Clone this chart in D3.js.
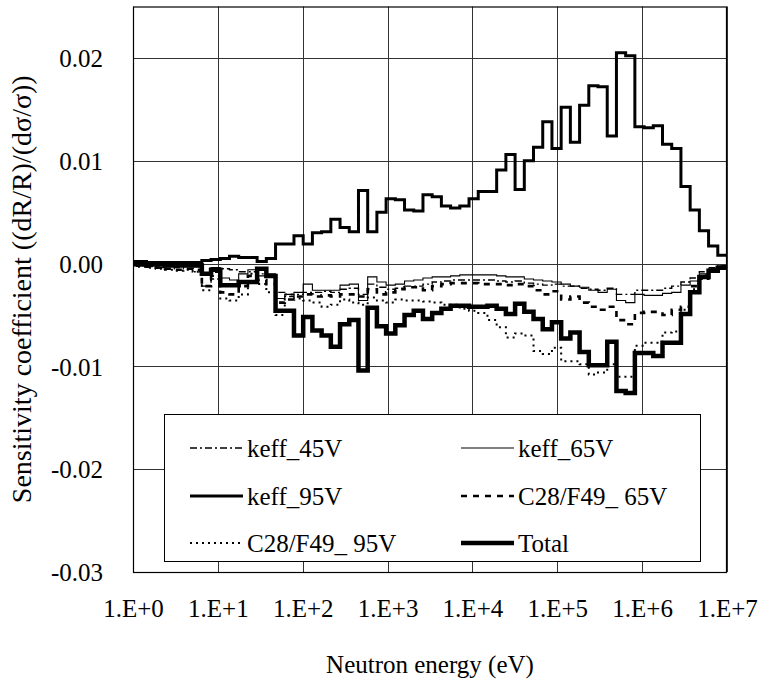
<!DOCTYPE html>
<html>
<head>
<meta charset="utf-8">
<script src="https://cdn.jsdelivr.net/npm/d3@7"></script>
<style>
  html, body { margin: 0; padding: 0; background: #fff; }
  svg { display: block; }
</style>
</head>
<body>
<svg id="chart" width="761" height="684"></svg>
<script>
// Energy group boundaries (eV), from high to low energy
const groupEdgesEV = [
  1.0e7, 7.788e6, 6.0653e6, 4.7237e6, 3.6788e6, 2.8650e6, 2.2313e6, 1.7377e6, 1.3534e6, 1.0540e6,
  8.2085e5, 6.3928e5, 4.9787e5, 3.8774e5, 3.0197e5, 2.3518e5, 1.8316e5, 1.4264e5, 1.1109e5, 8.6517e4,
  6.7379e4, 5.2475e4, 4.0868e4, 3.1828e4, 2.4788e4, 1.9305e4, 1.5034e4, 1.1709e4, 9.1188e3, 7.1017e3,
  5.5308e3, 4.3074e3, 3.3546e3, 2.6126e3, 2.0347e3, 1.5846e3, 1.2341e3, 961.12, 748.52, 582.95,
  454.00, 353.57, 275.36, 214.45, 167.02, 130.07, 101.30, 78.893, 61.442, 47.851,
  37.267, 29.023, 22.603, 17.603, 13.710, 10.677, 8.3153, 6.4760, 5.0435, 3.9279,
  3.0590, 2.3824, 1.8554, 1.4450, 1.1254, 0.87642
];

const seriesNames = ["keff_45V", "keff_65V", "keff_95V", "C28/F49_ 65V", "C28/F49_ 95V", "Total"];

// Sensitivity per group (same order as groupEdgesEV groups: high -> low energy)
const keff45V = [
  -0.0002, -0.0004, -0.0008, -0.0014, -0.0018, -0.0022, -0.0024, -0.0026, -0.0026, -0.0026,
  -0.0030, -0.0030, -0.0024, -0.0026, -0.0025, -0.0024, -0.0022, -0.0022, -0.0020, -0.0021,
  -0.0020, -0.0019, -0.0017, -0.0018, -0.0017, -0.0016, -0.0016, -0.0016, -0.0016, -0.0016,
  -0.0017, -0.0018, -0.0020, -0.0022, -0.0022, -0.0024, -0.0025, -0.0023, -0.0020, -0.0030,
  -0.0024, -0.0025, -0.0028, -0.0027, -0.0028, -0.0028, -0.0030, -0.0032, -0.0028, -0.0012,
  -0.0010, -0.0008, -0.0008, -0.0006, -0.0005, -0.0015, -0.0022, -0.0008, -0.0005, -0.0004,
  -0.0005, -0.0004, -0.0003, -0.0002, -0.0001
];
const keff65V = [
  -0.0003, -0.0005, -0.0010, -0.0017, -0.0021, -0.0028, -0.0029, -0.0031, -0.0031, -0.0030,
  -0.0038, -0.0036, -0.0025, -0.0028, -0.0026, -0.0023, -0.0022, -0.0020, -0.0018, -0.0017,
  -0.0016, -0.0015, -0.0013, -0.0013, -0.0012, -0.0011, -0.0011, -0.0011, -0.0011, -0.0012,
  -0.0013, -0.0013, -0.0014, -0.0016, -0.0017, -0.0020, -0.0021, -0.0018, -0.0013, -0.0036,
  -0.0020, -0.0021, -0.0026, -0.0026, -0.0026, -0.0020, -0.0028, -0.0030, -0.0034, -0.0010,
  -0.0012, -0.0006, -0.0010, -0.0016, -0.0014, -0.0004, -0.0010, -0.0003, -0.0003, -0.0002,
  -0.0002, -0.0002, -0.0001, -0.0001, 0.0000
];
const keff95V = [
  0.0008, 0.0017, 0.0032, 0.0052, 0.0075, 0.0112, 0.0116, 0.0134, 0.0132, 0.0133,
  0.0202, 0.0205, 0.0124, 0.0172, 0.0173, 0.0154, 0.0118, 0.0152, 0.0112, 0.0138,
  0.0113, 0.0100, 0.0072, 0.0106, 0.0091, 0.0070, 0.0070, 0.0063, 0.0056, 0.0054,
  0.0056, 0.0065, 0.0067, 0.0051, 0.0052, 0.0062, 0.0063, 0.0050, 0.0031, 0.0071,
  0.0031, 0.0035, 0.0043, 0.0031, 0.0030, 0.0019, 0.0027, 0.0019, 0.0019, 0.0005,
  0.0002, 0.0006, 0.0006, 0.0007, 0.0005, 0.0004, 0.0003, 0.0001, 0.0001, 0.0001,
  0.0001, 0.0001, 0.0001, 0.0002, 0.0002
];
const c28f49_65V = [
  -0.0003, -0.0006, -0.0012, -0.0022, -0.0042, -0.0045, -0.0050, -0.0047, -0.0047, -0.0048,
  -0.0059, -0.0055, -0.0042, -0.0045, -0.0042, -0.0038, -0.0032, -0.0035, -0.0027, -0.0030,
  -0.0026, -0.0022, -0.0020, -0.0021, -0.0020, -0.0020, -0.0020, -0.0019, -0.0019, -0.0019,
  -0.0020, -0.0022, -0.0026, -0.0023, -0.0023, -0.0025, -0.0028, -0.0030, -0.0025, -0.0032,
  -0.0030, -0.0030, -0.0032, -0.0031, -0.0032, -0.0030, -0.0032, -0.0035, -0.0038, -0.0020,
  -0.0016, -0.0012, -0.0022, -0.0030, -0.0028, -0.0008, -0.0022, -0.0006, -0.0005, -0.0006,
  -0.0005, -0.0004, -0.0003, -0.0002, -0.0001
];
const c28f49_95V = [
  -0.0003, -0.0008, -0.0015, -0.0025, -0.0045, -0.0066, -0.0067, -0.0077, -0.0077, -0.0080,
  -0.0110, -0.0110, -0.0098, -0.0106, -0.0108, -0.0098, -0.0095, -0.0095, -0.0082, -0.0088,
  -0.0085, -0.0070, -0.0068, -0.0072, -0.0062, -0.0055, -0.0048, -0.0046, -0.0044, -0.0040,
  -0.0040, -0.0038, -0.0037, -0.0036, -0.0036, -0.0035, -0.0038, -0.0036, -0.0033, -0.0040,
  -0.0038, -0.0035, -0.0040, -0.0042, -0.0038, -0.0036, -0.0034, -0.0030, -0.0050, -0.0028,
  -0.0020, -0.0010, -0.0030, -0.0036, -0.0034, -0.0012, -0.0026, -0.0008, -0.0006, -0.0007,
  -0.0006, -0.0005, -0.0004, -0.0003, -0.0002
];
const total = [
  -0.0004, -0.0007, -0.0013, -0.0028, -0.0049, -0.0077, -0.0077, -0.0090, -0.0087, -0.0087,
  -0.0126, -0.0124, -0.0076, -0.0099, -0.0099, -0.0086, -0.0067, -0.0073, -0.0057, -0.0064,
  -0.0054, -0.0047, -0.0039, -0.0049, -0.0044, -0.0041, -0.0042, -0.0042, -0.0041, -0.0041,
  -0.0044, -0.0048, -0.0054, -0.0046, -0.0050, -0.0060, -0.0068, -0.0061, -0.0043, -0.0104,
  -0.0055, -0.0059, -0.0081, -0.0070, -0.0065, -0.0052, -0.0070, -0.0046, -0.0046, -0.0012,
  -0.0005, -0.0018, -0.0018, -0.0021, -0.0021, -0.0006, -0.0010, -0.0002, -0.0002, -0.0002,
  -0.0002, -0.0001, -0.0001, -0.0001, 0.0001
];

const xTickValues = [1e0, 1e1, 1e2, 1e3, 1e4, 1e5, 1e6, 1e7];
const xTickLabels = ["1.E+0", "1.E+1", "1.E+2", "1.E+3", "1.E+4", "1.E+5", "1.E+6", "1.E+7"];
const yTickValues = [-0.03, -0.02, -0.01, 0.00, 0.01, 0.02];
const yTickLabels = ["-0.03", "-0.02", "-0.01", "0.00", "0.01", "0.02"];

const seriesValues = [keff45V, keff65V, keff95V, c28f49_65V, c28f49_95V, total];
const seriesStyles = [
  { width: 1.4, dash: "7,3,2,3" },
  { width: 1.1, dash: null },
  { width: 3.0, dash: null },
  { width: 2.6, dash: "6,6" },
  { width: 2.0, dash: "2,4" },
  { width: 4.5, dash: null }
];

const FONT = '"Liberation Serif"';

// ---------- layout ----------
const svg = d3.select("#chart");
const plot = { left: 133, right: 727, top: 6.5, bottom: 572 };

const x = d3.scaleLog().domain([1, 1e7]).range([plot.left, plot.right]);
const y = d3.scaleLinear().domain([-0.03, 0.025]).range([plot.bottom, plot.top]);

// gridlines
const grid = svg.append("g");
grid.selectAll("line.v").data(xTickValues).join("line")
  .attr("x1", d => Math.round(x(d)) + 0.5).attr("x2", d => Math.round(x(d)) + 0.5)
  .attr("y1", plot.top).attr("y2", plot.bottom)
  .attr("stroke", "#333").attr("stroke-width", 1);
grid.selectAll("line.h").data(yTickValues).join("line")
  .attr("x1", plot.left).attr("x2", plot.right)
  .attr("y1", d => Math.round(y(d)) + 0.5).attr("y2", d => Math.round(y(d)) + 0.5)
  .attr("stroke", "#333").attr("stroke-width", 1);

// axes (labels only, via d3 axis)
const xAxis = d3.axisBottom(x).tickValues(xTickValues)
  .tickFormat((d, i) => xTickLabels[i]).tickSize(0).tickPadding(0);
const gx = svg.append("g").attr("transform", `translate(0,${plot.bottom})`).call(xAxis);
gx.attr("font-family", null).attr("font-size", null);
gx.select(".domain").remove();
gx.selectAll("text").attr("dy", null).attr("y", 45)
  .style("font-family", FONT).style("font-size", "25px").attr("fill", "#000");

const yAxis = d3.axisLeft(y).tickValues(yTickValues)
  .tickFormat((d, i) => yTickLabels[i]).tickSize(0).tickPadding(30);
const gy = svg.append("g").attr("transform", `translate(${plot.left},0)`).call(yAxis);
gy.attr("font-family", null).attr("font-size", null);
gy.select(".domain").remove();
gy.selectAll("text").attr("dy", "0.35em")
  .style("font-family", FONT).style("font-size", "25px").attr("fill", "#000");

// plot border
svg.append("rect")
  .attr("x", plot.left + 0.5).attr("y", plot.top + 0.5)
  .attr("width", plot.right - plot.left - 1).attr("height", plot.bottom - plot.top)
  .attr("fill", "none").attr("stroke", "#000").attr("stroke-width", 1.2);

// clip
svg.append("clipPath").attr("id", "plotclip").append("rect")
  .attr("x", plot.left).attr("y", plot.top)
  .attr("width", plot.right - plot.left).attr("height", plot.bottom - plot.top);

// step paths
function stepPoints(vals) {
  const pts = [];
  for (let k = vals.length - 1; k >= 0; k--) {
    const lo = Math.max(groupEdgesEV[k + 1], 1);
    const hi = groupEdgesEV[k];
    pts.push([lo, vals[k]]);
    pts.push([hi, vals[k]]);
  }
  return pts;
}
const line = d3.line().x(d => x(d[0])).y(d => y(d[1]));

const lines = svg.append("g").attr("clip-path", "url(#plotclip)");
seriesValues.forEach((vals, i) => {
  const st = seriesStyles[i];
  lines.append("path")
    .attr("d", line(stepPoints(vals)))
    .attr("fill", "none")
    .attr("stroke", "#000")
    .attr("stroke-width", st.width)
    .attr("stroke-linejoin", "miter")
    .attr("stroke-dasharray", st.dash);
});

// legend
const legend = { left: 164, top: 414, right: 700, bottom: 561 };
svg.append("rect")
  .attr("x", legend.left + 0.5).attr("y", legend.top + 0.5)
  .attr("width", legend.right - legend.left).attr("height", legend.bottom - legend.top)
  .attr("fill", "#fff").attr("stroke", "#000").attr("stroke-width", 1);

const colX = [190, 461];
const rowY = [448, 496, 543];
seriesNames.forEach((name, i) => {
  const cx = colX[i % 2], cy = rowY[Math.floor(i / 2)];
  const st = seriesStyles[i];
  svg.append("line")
    .attr("x1", cx).attr("x2", cx + 53).attr("y1", cy).attr("y2", cy)
    .attr("stroke", "#000").attr("stroke-width", st.width)
    .attr("stroke-dasharray", st.dash);
  svg.append("text")
    .attr("x", cx + 57).attr("y", cy).attr("dy", "0.35em")
    .style("font-family", FONT).style("font-size", "25px")
    .text(name);
});

// axis titles
svg.append("text")
  .attr("x", (plot.left + plot.right) / 2).attr("y", 673)
  .attr("text-anchor", "middle")
  .style("font-family", FONT).style("font-size", "25px")
  .text("Neutron energy (eV)");
svg.append("text")
  .attr("transform", `translate(31,${(plot.top + plot.bottom) / 2}) rotate(-90)`)
  .attr("text-anchor", "middle")
  .style("font-family", FONT).style("font-size", "28px")
  .text("Sensitivity coefficient ((dR/R)/(dσ/σ))");
</script>
</body>
</html>
